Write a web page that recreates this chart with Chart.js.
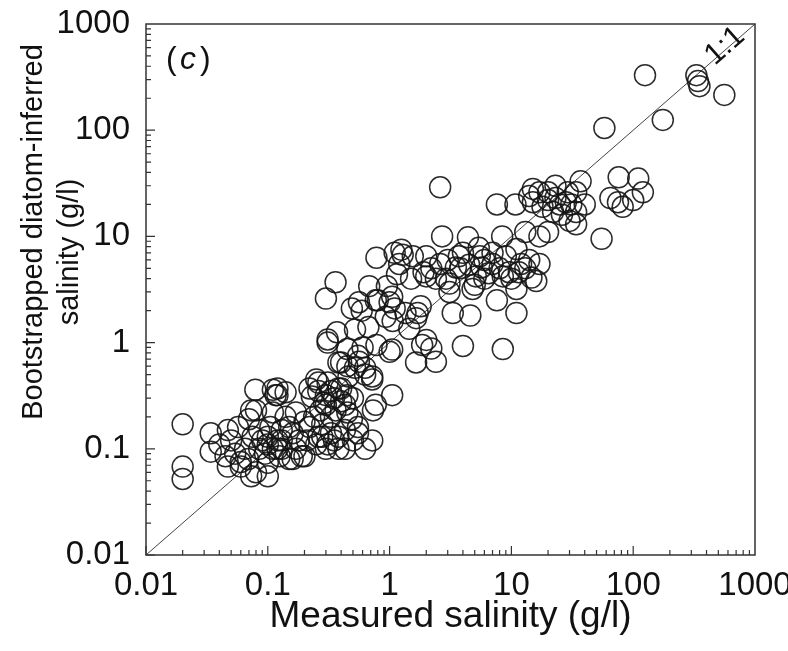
<!DOCTYPE html>
<html>
<head>
<meta charset="utf-8">
<script src="https://cdn.jsdelivr.net/npm/chart.js@4.4.1/dist/chart.umd.min.js"></script>
<style>
  html, body { margin: 0; padding: 0; background: #fff; }
  #wrap { width: 788px; height: 651px; }
</style>
</head>
<body>
<div id="wrap"><canvas id="chart" width="788" height="651"></canvas></div>
<script>
// Ejes (g/l), escala logarítmica en ambos
const decadeTicks = [0.01, 0.1, 1, 10, 100, 1000];

// Salinidad medida (x) frente a salinidad inferida por diatomeas (y)
const measured = [
  0.02, 0.02, 0.02,
  0.034, 0.034, 0.047, 0.057, 0.045, 0.047, 0.06, 0.054, 0.069, 0.08, 0.085, 0.07, 0.073, 0.079, 0.11,
  0.085, 0.1, 0.1, 0.073, 0.06, 0.116, 0.14, 0.08, 0.11, 0.09, 0.1, 0.11, 0.095, 0.12, 0.13, 0.065,
  0.075, 0.05, 0.04, 0.105, 0.125,
  0.12, 0.12, 0.25, 0.31, 0.4, 0.26, 0.22, 0.3, 0.36, 0.43, 0.49, 0.43, 0.55, 0.72, 0.63, 0.22, 0.26,
  0.31, 0.38, 0.18, 0.15, 0.13, 0.12, 0.15, 0.19, 0.16, 0.2, 0.3, 0.43, 0.26, 0.23, 0.29, 0.38, 0.14,
  0.17, 0.2, 0.24, 0.28, 0.33, 0.35, 0.4, 0.45, 0.33, 0.38, 0.27, 0.16, 0.21, 0.5, 0.55,
  0.1, 0.13, 0.17, 0.25, 0.28, 0.35, 0.3, 0.33, 0.45, 0.5,
  0.72, 0.63, 0.31, 0.38, 0.45, 0.77, 0.73, 1.05, 0.45, 0.56, 0.52, 0.63, 0.72, 0.46, 0.4, 0.37, 0.31,
  0.52, 0.67, 0.55, 0.6,
  0.36, 0.3, 0.56, 0.59, 0.49, 0.8, 1.05, 1.1, 0.93, 1.35, 1.65, 0.78, 1.28, 1.25, 1.55, 2.0, 1.9, 1.5,
  1.15, 0.95, 0.77, 0.68, 1.0, 1.8, 1.7, 1.06, 1.45, 2.0, 0.78, 1.0, 1.05, 1.65, 1.85, 2.4, 2.2, 4.0, 8.5,
  1.2, 1.1,
  2.6, 2.7, 4.4, 8.4, 13, 17, 11, 14, 2.2, 2.6, 3.5, 4.5, 5.7, 7, 8, 9.6, 11.5, 14.6, 2, 2.9, 5.1, 3.1,
  4.8, 7.6, 11, 16, 3.3, 4.6, 11, 5.4, 7, 3.8, 3.1, 2.4, 6, 9, 12, 6.5, 5, 10, 20, 34, 17, 4,
  3, 3.7, 5.5, 6, 8.5, 13,
  7.6, 10.8, 15, 17, 20, 23, 29, 34, 37, 31, 26, 22, 18, 15, 30, 34, 28, 23, 14, 20, 25, 40,
  76, 110, 65, 75, 82, 100, 120, 55,
  58, 175, 125, 330, 340, 350, 560
];
const inferred = [
  0.17, 0.068, 0.052,
  0.14, 0.094, 0.15, 0.16, 0.085, 0.068, 0.068, 0.09, 0.08, 0.06, 0.15, 0.19, 0.23, 0.36, 0.36,
  0.1, 0.074, 0.055, 0.055, 0.075, 0.32, 0.34, 0.23, 0.22, 0.12, 0.13, 0.1, 0.09, 0.12, 0.15, 0.1,
  0.13, 0.12, 0.11, 0.16, 0.085,
  0.37, 0.32, 0.45, 0.42, 0.37, 0.35, 0.37, 0.26, 0.23, 0.26, 0.19, 0.15, 0.14, 0.12, 0.1, 0.16, 0.13,
  0.11, 0.1, 0.12, 0.16, 0.12, 0.1, 0.08, 0.085, 0.08, 0.085, 0.1, 0.1, 0.42, 0.31, 0.27, 0.37, 0.2,
  0.22, 0.18, 0.2, 0.17, 0.2, 0.3, 0.28, 0.22, 0.14, 0.13, 0.23, 0.14, 0.12, 0.12, 0.16,
  0.11, 0.1, 0.1, 0.11, 0.13, 0.12, 0.32, 0.35, 0.32, 0.3,
  0.45, 0.5, 1.0, 0.65, 0.6, 0.26, 0.23, 0.32, 0.87, 0.66, 0.58, 0.58, 0.48, 0.48, 0.65, 1.25, 1.07,
  1.33, 1.4, 0.75, 0.9,
  3.7, 2.6, 2.4, 2.0, 2.1, 2.5, 2.7, 2.1, 1.75, 1.9, 1.7, 6.3, 6.7, 7.5, 6.5, 6.5, 4.6, 4.0,
  4.4, 3.4, 2.5, 3.4, 2.4, 2.2, 1.9, 1.6, 1.35, 1.06, 0.95, 0.82, 0.86, 0.65, 0.95, 0.66, 0.88, 0.93, 0.87,
  5.5, 7,
  29, 10, 9.8, 10, 11, 10, 7.6, 6, 5, 5.5, 5.1, 5.4, 5.1, 5.5, 5, 4.6, 4.6, 4.1, 4.2, 4.0, 4.2, 3.0,
  3.2, 2.5, 3.2, 3.8, 1.9, 1.8, 1.9, 7.8, 7, 5, 3.6, 4, 6, 6.5, 5.5, 4.5, 3.5, 4, 11, 13, 5.5, 7,
  6, 6.5, 6.5, 4, 4.2, 5,
  20, 20, 28, 26, 26, 23, 26, 26, 33, 20, 16, 17, 19, 21, 14, 17, 21, 30, 24, 22, 20, 20,
  36, 35, 23, 21, 19, 22, 26, 9.5,
  105, 125, 330, 330, 290, 260, 215
];

// Línea 1:1
const oneToOne = [{ x: 0.01, y: 0.01 }, { x: 1000, y: 1000 }];

const FONT = "'Liberation Sans', Arial, sans-serif";

/**
 * Dibuja marcas hacia dentro, el marco, las etiquetas "(c)" y "1:1"
 * y el título de dos líneas del eje Y.
 */
const decorPlugin = {
  id: "decor",
  afterDraw(chart) {
    const { ctx, chartArea: a, scales: { x, y } } = chart;
    ctx.save();
    ctx.strokeStyle = "#333";
    ctx.lineWidth = 1.5;
    ctx.strokeRect(a.left, a.top, a.right - a.left, a.bottom - a.top);

    // marcas menores y mayores
    ctx.lineWidth = 1.2;
    ctx.beginPath();
    for (let e = -2; e < 3; e++) {
      for (let m = 1; m < 10; m++) {
        const v = m * Math.pow(10, e);
        const len = m === 1 ? 9 : 5;
        const px = x.getPixelForValue(v);
        ctx.moveTo(px, a.bottom);
        ctx.lineTo(px, a.bottom - len);
        const py = y.getPixelForValue(v);
        ctx.moveTo(a.left, py);
        ctx.lineTo(a.left + len, py);
      }
    }
    ctx.stroke();

    // (c)
    ctx.fillStyle = "#111";
    ctx.textBaseline = "middle";
    ctx.textAlign = "left";
    ctx.font = "32px " + FONT;
    ctx.fillText("(", 166, 60);
    ctx.font = "italic 32px " + FONT;
    ctx.fillText("c", 180, 60);
    ctx.font = "32px " + FONT;
    ctx.fillText(")", 200, 60);

    // 1:1
    ctx.save();
    ctx.translate(725, 46);
    ctx.rotate(-0.72);
    ctx.textAlign = "center";
    ctx.font = "30px " + FONT;
    ctx.fillText("1:1", 0, 0);
    ctx.restore();

    // título eje Y
    ctx.font = "29px " + FONT;
    ctx.textAlign = "center";
    ctx.save();
    ctx.translate(34, 232);
    ctx.rotate(-Math.PI / 2);
    ctx.fillText("Bootstrapped diatom-inferred", 0, 0);
    ctx.restore();
    ctx.save();
    ctx.translate(70, 252);
    ctx.rotate(-Math.PI / 2);
    ctx.fillText("salinity (g/l)", 0, 0);
    ctx.restore();

    ctx.restore();
  }
};

function setDecades(scale) {
  scale.ticks = decadeTicks.map(v => ({ value: v }));
}

new Chart(document.getElementById("chart"), {
  type: "scatter",
  data: {
    datasets: [
      {
        data: measured.map((m, i) => ({ x: m, y: inferred[i] })),
        pointStyle: "circle",
        pointRadius: 10.5,
        pointHoverRadius: 10.5,
        borderWidth: 1.5,
        borderColor: "rgba(20,20,20,0.9)",
        backgroundColor: "rgba(0,0,0,0)"
      },
      {
        type: "line",
        data: oneToOne,
        borderColor: "#444",
        borderWidth: 1,
        pointRadius: 0,
        fill: false
      }
    ]
  },
  options: {
    responsive: false,
    animation: false,
    layout: { padding: { left: 0, right: 33, top: 24, bottom: 0 } },
    plugins: { legend: { display: false }, tooltip: { enabled: false } },
    scales: {
      x: {
        type: "logarithmic",
        min: 0.01,
        max: 1000,
        afterBuildTicks: setDecades,
        afterFit: s => { s.height = 96; s.paddingLeft = 0; s.paddingRight = 0; },
        grid: { display: false },
        border: { display: false },
        ticks: {
          autoSkip: false,
          maxRotation: 0,
          padding: 3,
          color: "#111",
          font: { family: FONT, size: 33 },
          callback: v => String(v)
        },
        title: {
          display: true,
          text: "Measured salinity (g/l)",
          color: "#111",
          font: { family: FONT, size: 37 },
          padding: { top: 0, bottom: 12 }
        }
      },
      y: {
        type: "logarithmic",
        min: 0.01,
        max: 1000,
        afterBuildTicks: setDecades,
        afterFit: s => { s.width = 146; s.paddingTop = 0; s.paddingBottom = 0; },
        grid: { display: false },
        border: { display: false },
        ticks: {
          autoSkip: false,
          padding: 8,
          color: "#111",
          font: { family: FONT, size: 33 },
          callback: v => String(v)
        }
      }
    }
  },
  plugins: [decorPlugin]
});
</script>
</body>
</html>
